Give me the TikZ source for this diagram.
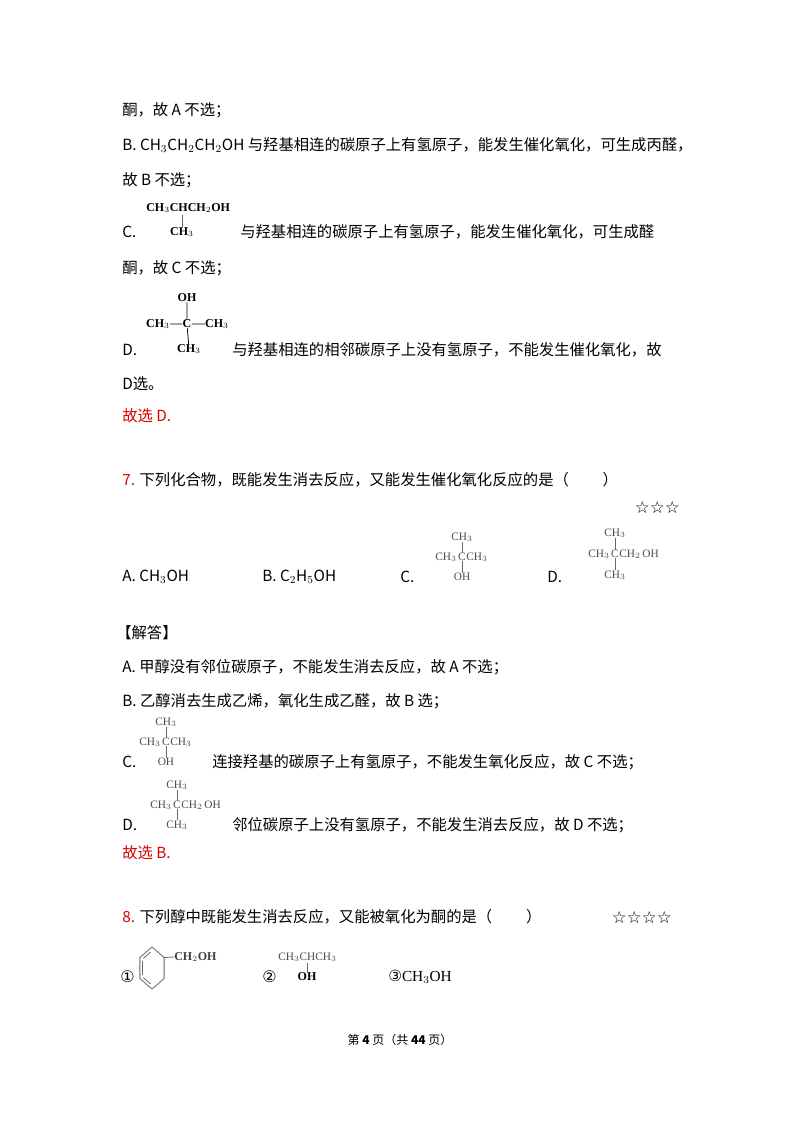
\documentclass[tikz,border=0pt]{standalone}
\usepackage{fontspec}
\usetikzlibrary{calc}
\setmainfont{Liberation Serif}
\newfontfamily\cjk{Noto Sans CJK SC}
\newfontfamily\sym{DejaVu Sans}
\begin{document}
\begin{tikzpicture}[x=0.75pt,y=-0.75pt,
  txt/.style={anchor=west,inner sep=0pt,font=\cjk\fontsize{11.5pt}{14pt}\selectfont},
  red/.style={txt,text=red!85!black},
  fm/.style={inner sep=0pt,font=\fontsize{9pt}{10pt}\selectfont\bfseries},
  fmg/.style={inner sep=0pt,font=\fontsize{8.5pt}{10pt}\selectfont,text=black!70},
  bd/.style={line width=0.6pt},
  bdg/.style={line width=0.6pt,black!60}]
\useasboundingbox[fill=white] (0,0) rectangle (800,1132);
\node[txt] (l1) at (122,110) {酮，故 A 不选；};
\node[txt] (l2) at (122,145) {B. CH$_3$CH$_2$CH$_2$OH 与羟基相连的碳原子上有氢原子，能发生催化氧化，可生成丙醛，};
\node[txt] (l3) at (122,180) {故 B 不选；};
\node[fm,anchor=west] (cf1) at (146,208) {CH$_3$CHCH$_2$OH};
\node[fm] (cf2) at (182,232) {CH$_3$};
\draw[bdg] (182,215) -- (cf2.north);
\node[txt] (l4) at (122,232) {C.};
\node[txt] (l4b) at (240,232) {与羟基相连的碳原子上有氢原子，能发生催化氧化，可生成醛};
\node[txt] (l5) at (122,268) {酮，故 C 不选；};
\node[fm] (d1) at (187,298) {OH};
\node[fm] (dc) at (187,324) {C};
\node[fm] (dl) at (158,324) {CH$_3$};
\node[fm] (dr) at (217,324) {CH$_3$};
\node[fm] (db) at (189,349) {CH$_3$};
\draw[bd] (d1) -- (dc) (dc) -- (db) (dl) -- (dc) (dc) -- (dr);
\node[txt] (l6) at (122,350) {D.};
\node[txt] (l6b) at (232,350) {与羟基相连的相邻碳原子上没有氢原子，不能发生催化氧化，故};
\node[txt] (l7) at (122,384) {D选。};
\node[red] (l8) at (122,416) {故选 D.};
\node[txt] (q7) at (122,480) {\textcolor{red!85!black}{7.} 下列化合物，既能发生消去反应，又能发生催化氧化反应的是（\hspace{2.2em}）};
\node[txt,font=\sym\fontsize{12.5pt}{13pt}\selectfont,anchor=east] (s7) at (680,508) {☆☆☆};
\node[txt] (o1) at (122,577) {A. CH$_3$OH};
\node[txt] (o2) at (262,577) {B. C$_2$H$_5$OH};
\node[txt] (o3) at (400,577) {C.};
\node[fmg] (c3t) at (462,537) {CH$_3$};
\node[fmg] (c3c) at (462,557) {C};
\node[fmg,anchor=east] (c3l) at (457,557) {CH$_3$};
\node[fmg,anchor=west] (c3r) at (466,557) {CH$_3$};
\node[fmg] (c3b) at (462,577) {OH};
\draw[bdg] (c3t) -- (c3c) -- (c3b);
\node[txt] (o4) at (547,577) {D.};
\node[fmg] (d4t) at (615,533) {CH$_3$};
\node[fmg] (d4c) at (615,554) {C};
\node[fmg,anchor=east] (d4l) at (610,554) {CH$_3$};
\node[fmg,anchor=west] (d4r) at (619,554) {CH$_2$\,OH};
\node[fmg] (d4b) at (615,575) {CH$_3$};
\draw[bdg] (d4t) -- (d4c) -- (d4b);
\node[txt] (jd) at (116,633) {【解答】};
\node[txt] (a1) at (122,667) {A. 甲醇没有邻位碳原子，不能发生消去反应，故 A 不选；};
\node[txt] (a2) at (122,701) {B. 乙醇消去生成乙烯，氧化生成乙醛，故 B 选；};
\node[fmg] (e3t) at (166,722) {CH$_3$};
\node[fmg] (e3c) at (166,742) {C};
\node[fmg,anchor=east] (e3l) at (161,742) {CH$_3$};
\node[fmg,anchor=west] (e3r) at (170,742) {CH$_3$};
\node[fmg] (e3b) at (166,762) {OH};
\draw[bdg] (e3t) -- (e3c) -- (e3b);
\node[txt] (a3) at (122,762) {C.};
\node[txt] (a3b) at (212,762) {连接羟基的碳原子上有氢原子，不能发生氧化反应，故 C 不选；};
\node[fmg] (f4t) at (177,785) {CH$_3$};
\node[fmg] (f4c) at (177,805) {C};
\node[fmg,anchor=east] (f4l) at (172,805) {CH$_3$};
\node[fmg,anchor=west] (f4r) at (181,805) {CH$_2$\,OH};
\node[fmg] (f4b) at (177,825) {CH$_3$};
\draw[bdg] (f4t) -- (f4c) -- (f4b);
\node[txt] (a4) at (122,825) {D.};
\node[txt] (a4b) at (232,825) {邻位碳原子上没有氢原子，不能发生消去反应，故 D 不选；};
\node[red] (a5) at (122,853) {故选 B.};
\node[txt] (q8) at (122,917) {\textcolor{red!85!black}{8.} 下列醇中既能发生消去反应，又能被氧化为酮的是（\hspace{2.2em}）};
\node[txt,font=\sym\fontsize{12.5pt}{13pt}\selectfont,anchor=east] (s8) at (672,917) {☆☆☆☆};
\node[txt,font=\sym\fontsize{12pt}{14pt}\selectfont] (n1) at (120,977) {①};
\foreach \i in {0,...,5} \coordinate (h\i) at ({152+14*cos(90+60*\i)},{968-21*sin(90+60*\i)});
\draw[bdg] (h0)--(h1)--(h2)--(h3)--(h4)--(h5)--cycle;
\draw[bdg] ($(h1)!0.15!(h2)+(3,0)$) -- ($(h1)!0.85!(h2)+(3,0)$);
\draw[bdg] ($(h0)!0.2!(h1)+(1,3)$) -- ($(h0)!0.8!(h1)+(1,3)$);
\draw[bdg] ($(h3)!0.2!(h2)+(1,-3)$) -- ($(h3)!0.8!(h2)+(1,-3)$);
\node[fm,anchor=west,text=black!75] (bz) at (174,957) {CH$_2$OH};
\draw[bdg] (h5) -- (bz.west);
\node[txt,font=\sym\fontsize{12pt}{14pt}\selectfont] (n2) at (262,977) {②};
\node[fmg,anchor=west] (p1) at (278,957) {CH$_3$CHCH$_3$};
\node[fm] (p2) at (307,977) {OH};
\draw[bdg] (307,963) -- (p2.north);
\node[txt] (n3) at (388,977) {\sym ③\rmfamily CH$_3$OH};
\node[txt,font=\cjk\fontsize{9pt}{11pt}\selectfont,anchor=center] (ft) at (400,1040) {第 \textbf{4} 页（共 \textbf{44} 页）};
\end{tikzpicture}
\end{document}
